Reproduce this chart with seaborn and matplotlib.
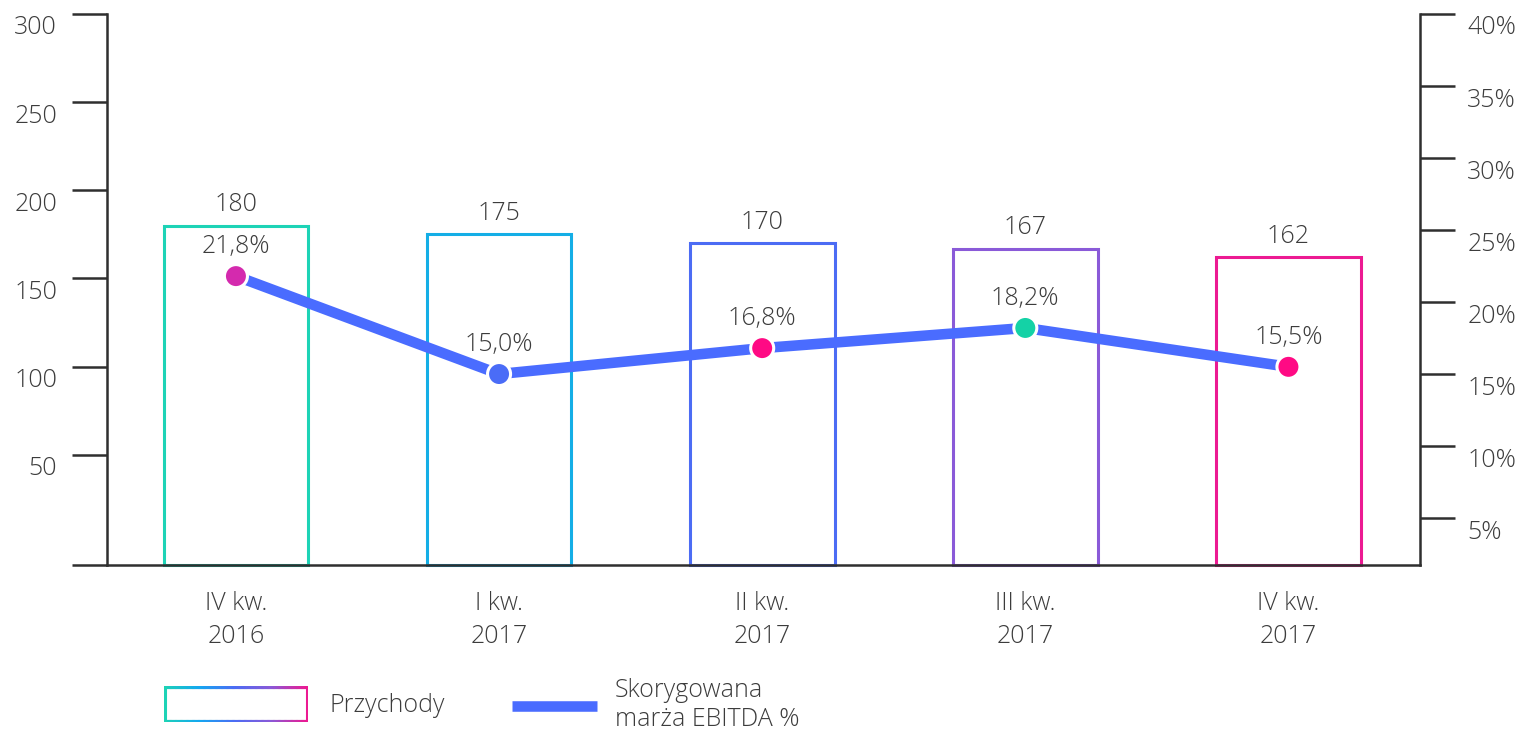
import numpy as np
import pandas as pd
import seaborn as sns
import matplotlib.pyplot as plt
import matplotlib.transforms as mtransforms
from matplotlib.collections import LineCollection
from matplotlib.colors import LinearSegmentedColormap

# data
quarters = ["IV kw.\n2016", "I kw.\n2017", "II kw.\n2017", "III kw.\n2017", "IV kw.\n2017"]
revenue = [180, 175, 170, 167, 162]
ebitda_margin = [21.8, 15.0, 16.8, 18.2, 15.5]
left_ticks = [50, 100, 150, 200, 250, 300]
right_ticks = [5, 10, 15, 20, 25, 30, 35, 40]

bar_colors = ["#1dd3b6", "#14aee6", "#4c6cf4", "#8a5ad8", "#ec1a92"]
dot_colors = ["#d42aae", "#4a6cf7", "#ff0a84", "#14d2a6", "#ff0a84"]
line_color = "#4a6cff"
text_color = "#3c3c3c"
axis_color = "#2f2f2f"
fs = 18

sns.set_theme(style="white")
plt.rcParams["font.family"] = ["Open Sans", "DejaVu Sans"]
plt.rcParams["font.weight"] = "light"
plt.rcParams["font.size"] = fs

df = pd.DataFrame({"quarter": quarters, "revenue": revenue, "margin": ebitda_margin})

fig = plt.figure(figsize=(15.23, 7.34), dpi=100)
W, H = 1523, 734
ax = fig.add_axes([107 / W, 1 - 565 / H, (1420 - 107) / W, (565 - 14) / H])

# bars (outline only), stretched down to the x axis line
ylo = -12.5
sns.barplot(data=df, x="quarter", y="revenue", hue="quarter", palette=bar_colors,
            fill=False, width=0.55, linewidth=2.2, legend=False, ax=ax)
for p in ax.patches:
    h = p.get_height()
    p.set_y(ylo)
    p.set_height(h - ylo)
    p.set_clip_on(False)
    ax.annotate(f"{int(round(h))}", (p.get_x() + p.get_width() / 2, h),
                xytext=(0, 6), textcoords="offset points", ha="center", va="bottom",
                fontsize=fs, color=text_color, fontweight="light")

ax.set_xlim(-0.49, 4.5)
ax.set_ylim(ylo, 300)
ax.set_xlabel("")
ax.set_ylabel("")
ax.set_yticks([ylo] + left_ticks)
ax.set_yticklabels([""] + [str(t) for t in left_ticks])
ax.tick_params(axis="y", left=True, length=25, width=1.8, color=axis_color,
               pad=11, labelsize=fs, labelcolor=text_color)
ax.tick_params(axis="x", bottom=False, length=0, pad=19, labelsize=fs, labelcolor=text_color)
for lab in ax.get_xticklabels():
    lab.set_linespacing(1.4)
off = mtransforms.ScaledTranslation(0, -0.11, fig.dpi_scale_trans)
for lab in ax.get_yticklabels():
    lab.set_transform(lab.get_transform() + off)
for s in ["top", "right"]:
    ax.spines[s].set_visible(False)
for s in ["left", "bottom"]:
    ax.spines[s].set_color(axis_color)
    ax.spines[s].set_linewidth(1.8)

# margin line on right axis
ax2 = ax.twinx()
x_pos = np.arange(len(quarters))
sns.lineplot(x=x_pos, y=ebitda_margin, color=line_color, linewidth=7.6, ax=ax2,
             solid_capstyle="butt")
sns.scatterplot(x=x_pos, y=ebitda_margin, hue=quarters, palette=dot_colors, s=275,
                edgecolor="white", linewidth=2.2, legend=False, ax=ax2, zorder=5)
for xi, v in zip(x_pos, ebitda_margin):
    ax2.annotate(f"{v:.1f}%".replace(".", ","), (xi, v), xytext=(0, 12),
                 textcoords="offset points", ha="center", va="bottom",
                 fontsize=fs, color=text_color, fontweight="light")
ax2.set_ylim(1.74, 40)
ax2.set_xlim(-0.49, 4.5)
ax2.set_yticks(right_ticks)
ax2.set_yticklabels([f"{t}%" for t in right_ticks])
ax2.tick_params(axis="y", right=True, length=25, width=1.8, color=axis_color,
                pad=9, labelsize=fs, labelcolor=text_color)
for lab in ax2.get_yticklabels():
    lab.set_transform(lab.get_transform() + off)
for s in ["top", "left", "bottom"]:
    ax2.spines[s].set_visible(False)
ax2.spines["right"].set_color(axis_color)
ax2.spines["right"].set_linewidth(1.8)
ax2.grid(False)
ax.grid(False)

# legend: gradient box + line
leg = fig.add_axes([164 / W, 1 - 722 / H, 144 / W, 36 / H])
leg.set_xlim(0, 1)
leg.set_ylim(0, 1)
leg.axis("off")
cmap = LinearSegmentedColormap.from_list("g", ["#1dd3b6", "#14a8f0", "#4c6cf4", "#8a5ad8", "#ec1a92"])
xs = np.linspace(0, 1, 120)
segs, cols = [], []
for y in (0.02, 0.98):
    for a, b in zip(xs[:-1], xs[1:]):
        segs.append([(a, y), (b, y)])
        cols.append(cmap((a + b) / 2))
segs.append([(0.005, 0.02), (0.005, 0.98)])
cols.append(cmap(0.0))
segs.append([(0.995, 0.02), (0.995, 0.98)])
cols.append(cmap(1.0))
leg.add_collection(LineCollection(segs, colors=cols, linewidths=2.2, capstyle="projecting"))

fig.text(330 / W, 1 - 706 / H, "Przychody", ha="left", va="center", fontsize=fs,
         color=text_color, fontweight="light")
fig.add_artist(plt.Line2D([512 / W, 597 / W], [1 - 706 / H, 1 - 706 / H], color=line_color,
                          linewidth=7.6, solid_capstyle="butt", transform=fig.transFigure))
fig.text(615 / W, 1 - 705 / H, "Skorygowana\nmarża EBITDA %", ha="left", va="center",
         fontsize=fs, color=text_color, linespacing=1.25, fontweight="light")

fig.savefig("out.png", dpi=100)
